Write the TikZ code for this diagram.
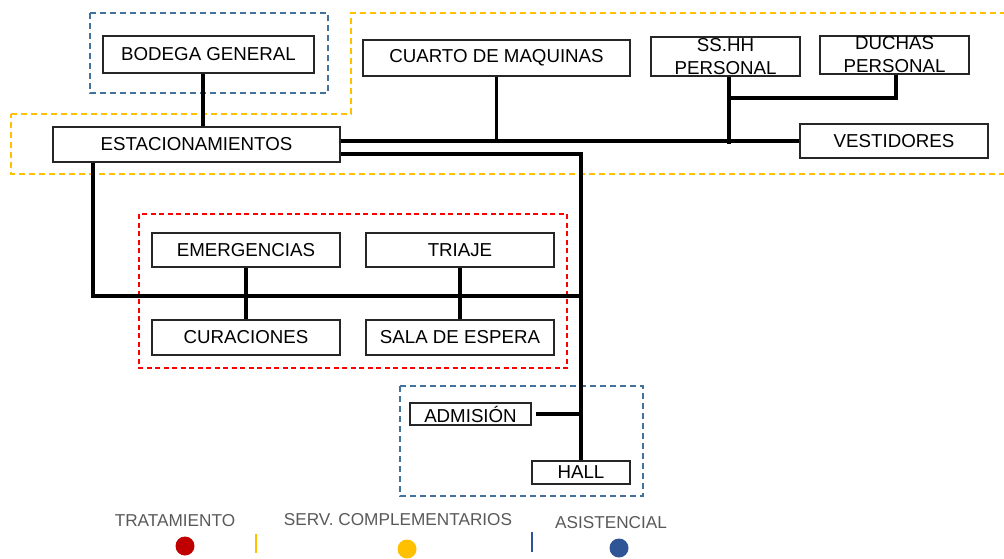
\documentclass[tikz,border=0pt]{standalone}
\usepackage{fontspec}
\setmainfont{Liberation Sans}
\definecolor{dblue}{HTML}{41719C}
\definecolor{dyel}{HTML}{FFC000}
\definecolor{dred}{HTML}{FF0000}
\definecolor{cred}{HTML}{C00000}
\definecolor{cblue}{HTML}{2F5597}
\definecolor{lgray}{HTML}{595959}
\begin{document}
\begin{tikzpicture}[x=1pt,y=-1pt,
  bx/.style={draw=black!85, line width=1.3pt, fill=white, inner sep=0pt,
    font=\fontsize{18.7}{23}\selectfont, align=center},
  conn/.style={line width=3.6pt, line cap=butt},
  zone/.style={line width=1.3pt, dash pattern=on 6pt off 4pt},
  leg/.style={font=\fontsize{17.2}{20}\selectfont, text=lgray, inner sep=0pt},
  dot/.style={circle, inner sep=0pt, minimum size=19pt}]
\useasboundingbox (0,0) rectangle (1004,558);
% zones
\draw[zone, dblue] (90,13) rectangle (328,93);
\draw[zone, dyel] (11,114) -- (351,114) -- (351,13) -- (1012,13) -- (1012,174) -- (11,174) -- cycle;
\draw[zone, dred, dash pattern=on 5pt off 3.5pt] (139,214) rectangle (567,368);
\draw[zone, dblue] (400,386) rectangle (643,496);
% nodes
\node[bx, minimum width=211pt, minimum height=37pt] (bod) at (208.5,54.5) {BODEGA GENERAL};
\node[bx, minimum width=287pt, minimum height=35pt] (est) at (196.5,144.5) {ESTACIONAMIENTOS};
\node[bx, minimum width=267pt, minimum height=36pt] (cua) at (496.5,58) {CUARTO DE MAQUINAS};
\node[bx, minimum width=149pt, minimum height=39pt] (ssh) at (725.5,56.5) {SS.HH\\PERSONAL};
\node[bx, minimum width=149pt, minimum height=38pt] (duc) at (894.5,55) {DUCHAS\\PERSONAL};
\node[bx, minimum width=188pt, minimum height=34pt] (ves) at (894,141) {VESTIDORES};
\node[bx, minimum width=188pt, minimum height=34pt] (eme) at (246,250) {EMERGENCIAS};
\node[bx, minimum width=188pt, minimum height=34pt] (tri) at (460,250) {TRIAJE};
\node[bx, minimum width=188pt, minimum height=35pt] (cur) at (246,337.5) {CURACIONES};
\node[bx, minimum width=188pt, minimum height=35pt] (sal) at (460,337.5) {SALA DE ESPERA};
\node[bx, minimum width=121pt, minimum height=22pt] (adm) at (470.5,414) {ADMISIÓN};
\node[bx, minimum width=98pt, minimum height=23pt] (hal) at (581,472.5) {HALL};
% junction coordinates
\coordinate (jss) at (729,98);
\coordinate (jlow) at (581,296);
% connectors
\draw[conn] ([xshift=-5.5pt]bod.south) -- ([xshift=-5.5pt]bod.south |- est.north);
\draw[conn] (est.east |- ves.west) -- (ves.west);
\draw[conn] (cua.south) -- (cua.south |- ves.west);
\draw[conn] ([xshift=3.5pt]ssh.south) -- ([xshift=3.5pt,yshift=-3pt]ssh.south |- ves.west);
\draw[conn] (jss) -| ([xshift=1.5pt]duc.south);
\draw[conn] ([yshift=-9.5pt]est.east) -| (hal.north);
\draw[conn] ([xshift=-103.5pt]est.south) |- (jlow);
\draw[conn] (eme.south) -- (cur.north);
\draw[conn] (tri.south) -- (sal.north);
\draw[conn] ([xshift=4pt]adm.east) -- (adm.east -| hal.north);
% legend
\node[leg] (lt) at (175,521) {TRATAMIENTO};
\node[leg] (ls) at (398,520) {SERV. COMPLEMENTARIOS};
\node[leg] (la) at (611,523) {ASISTENCIAL};
\node[dot, fill=cred] (dr) at (185,546) {};
\node[dot, fill=dyel] (dy) at (407,549) {};
\node[dot, fill=cblue] (db) at (619,548) {};
\draw[dyel, line width=1.6pt] (256,534) -- (256,553);
\draw[cblue, line width=1.6pt] (532,532) -- (532,552);
\end{tikzpicture}
\end{document}
